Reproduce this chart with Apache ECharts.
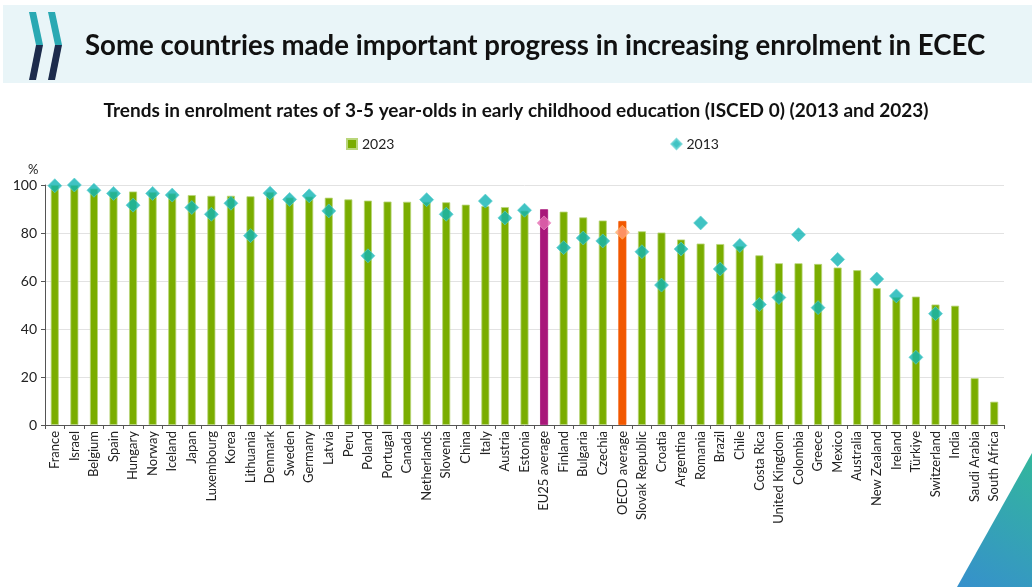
<!DOCTYPE html>
<html>
<head>
<meta charset="utf-8">
<script src="https://cdn.jsdelivr.net/npm/echarts@6/dist/echarts.min.js"></script>
<style>
  html, body { margin: 0; padding: 0; background: #ffffff; }
  #chart { width: 1032px; height: 587px; }
</style>
</head>
<body>
<div id="chart"></div>
<script>
// Enrolment rates of 3-5 year-olds in ECEC (ISCED 0), %
const categories = [
  'France', 'Israel', 'Belgium', 'Spain', 'Hungary', 'Norway', 'Iceland', 'Japan',
  'Luxembourg', 'Korea', 'Lithuania', 'Denmark', 'Sweden', 'Germany', 'Latvia', 'Peru',
  'Poland', 'Portugal', 'Canada', 'Netherlands', 'Slovenia', 'China', 'Italy', 'Austria',
  'Estonia', 'EU25 average', 'Finland', 'Bulgaria', 'Czechia', 'OECD average',
  'Slovak Republic', 'Croatia', 'Argentina', 'Romania', 'Brazil', 'Chile', 'Costa Rica',
  'United Kingdom', 'Colombia', 'Greece', 'Mexico', 'Australia', 'New Zealand', 'Ireland',
  'Türkiye', 'Switzerland', 'India', 'Saudi Arabia', 'South Africa'
];

const enrol2023 = [
  100, 100, 98.5, 97.3, 97.3, 97, 96.5, 95.8,
  95.5, 95.5, 95.3, 97, 94.8, 95.2, 94.7, 94.0,
  93.5, 93.1, 93.0, 93.0, 92.8, 91.8, 91.2, 90.8,
  89.3, 89.9, 88.9, 86.5, 85.2, 85.0,
  80.7, 80.2, 77.3, 75.6, 75.4, 74.5, 70.7,
  67.4, 67.4, 67.1, 65.6, 64.5, 57.0, 53.3,
  53.5, 50.2, 49.7, 19.5, 9.7
];

const enrol2013 = [
  99.7, 100, 97.8, 96.5, 91.6, 96.5, 95.8, 90.6,
  87.8, 92.4, 78.9, 96.6, 94.0, 95.5, 89.2, null,
  70.5, null, null, 93.9, 87.8, null, 93.3, 86.3,
  89.5, 84.2, 73.9, 77.9, 76.7, 80.3,
  72.2, 58.3, 73.3, 84.2, 65.0, 74.8, 50.2,
  53.1, 79.3, 48.9, 69.0, null, 60.8, 53.8,
  28.2, 46.4, null, null, null
];

const yTicks = { min: 0, max: 100, interval: 20 };

const GREEN = '#7AAD00';
const TEAL = '#10B4B4';
const FONT = 'Lato';

// Averages get their own colours
const highlightBar = { 'EU25 average': '#A8177A', 'OECD average': '#F25800' };
const highlightDot = {
  'EU25 average': { color: '#E46BB2', borderColor: '#F09AC8' },
  'OECD average': { color: '#FFA07A', borderColor: '#FFC35A' }
};

const barData = enrol2023.map((v, i) => {
  const c = highlightBar[categories[i]];
  return c ? { value: v, itemStyle: { color: c, borderColor: c } } : v;
});

const dotData = enrol2013.map((v, i) => {
  if (v === null) return '-';
  const s = highlightDot[categories[i]];
  return s ? { value: v, itemStyle: s } : v;
});

const chart = echarts.init(document.getElementById('chart'), null, { renderer: 'canvas' });

chart.setOption({
  backgroundColor: '#ffffff',
  animation: false,
  textStyle: { fontFamily: FONT },
  graphic: [
    // header band
    { type: 'rect', shape: { x: 3, y: 5, width: 1029, height: 78 }, style: { fill: '#E9F5F8' }, z: -10 },
    // chevron logo
    { type: 'polygon', shape: { points: [[29, 12], [36, 12], [43, 45], [36, 45]] }, style: { fill: '#2AA9B3' } },
    { type: 'polygon', shape: { points: [[36, 45], [43, 45], [36, 80], [29, 80]] }, style: { fill: '#1C2B4C' } },
    { type: 'polygon', shape: { points: [[48, 12], [55, 12], [62, 45], [55, 45]] }, style: { fill: '#2AA9B3' } },
    { type: 'polygon', shape: { points: [[55, 45], [62, 45], [55, 80], [48, 80]] }, style: { fill: '#1C2B4C' } },
    // unit label
    { type: 'text', left: 28, top: 163, style: { text: '%', font: '13px ' + FONT, fill: '#222' } },
    // corner decoration
    {
      type: 'polygon',
      shape: { points: [[1032, 453], [957, 587], [1032, 587]] },
      style: {
        fill: new echarts.graphic.LinearGradient(1, 0, 0, 1, [
          { offset: 0, color: '#33B79C' },
          { offset: 1, color: '#3690CC' }
        ])
      }
    }
  ],
  title: [
    {
      text: 'Some countries made important progress in increasing enrolment in ECEC',
      left: 80, top: 27,
      textStyle: { fontFamily: FONT, fontSize: 27.6, fontWeight: 'bold', color: '#111' }
    },
    {
      text: 'Trends in enrolment rates of 3-5 year-olds in early childhood education (ISCED 0) (2013 and 2023)',
      left: 'center', top: 96,
      textStyle: { fontFamily: FONT, fontSize: 19, fontWeight: 'bold', color: '#111' }
    }
  ],
  legend: {
    left: 341, top: 132,
    itemWidth: 10, itemHeight: 10, itemGap: 276,
    textStyle: { fontFamily: FONT, fontSize: 14, color: '#222' },
    data: [{ name: '2023', icon: 'rect' }, { name: '2013', icon: 'diamond' }]
  },
  grid: { left: 45, right: 28, top: 185, bottom: 162, containLabel: false },
  xAxis: {
    type: 'category',
    data: categories,
    boundaryGap: true,
    axisLine: { lineStyle: { color: '#555' } },
    axisTick: { show: true, length: 4, lineStyle: { color: '#555' } },
    axisLabel: { interval: 0, rotate: 90, fontSize: 13, color: '#222', margin: 6, fontFamily: FONT }
  },
  yAxis: {
    type: 'value',
    min: yTicks.min, max: yTicks.max, interval: yTicks.interval,
    axisLine: { show: true, lineStyle: { color: '#555' } },
    axisTick: { show: true, length: 4, lineStyle: { color: '#555' } },
    axisLabel: { fontSize: 14, color: '#222', margin: 8, fontFamily: FONT },
    splitLine: { lineStyle: { color: '#E2E2E2', width: 1 } }
  },
  series: [
    {
      name: '2023',
      type: 'bar',
      data: barData,
      barWidth: 8,
      itemStyle: { color: GREEN, borderColor: '#B9D67A', borderWidth: 0.8 }
    },
    {
      name: '2013',
      type: 'scatter',
      data: dotData,
      symbol: 'diamond',
      symbolSize: 14,
      itemStyle: { color: TEAL, borderColor: '#5FD0D0', borderWidth: 0.8 },
      z: 3
    }
  ]
});
</script>
</body>
</html>
